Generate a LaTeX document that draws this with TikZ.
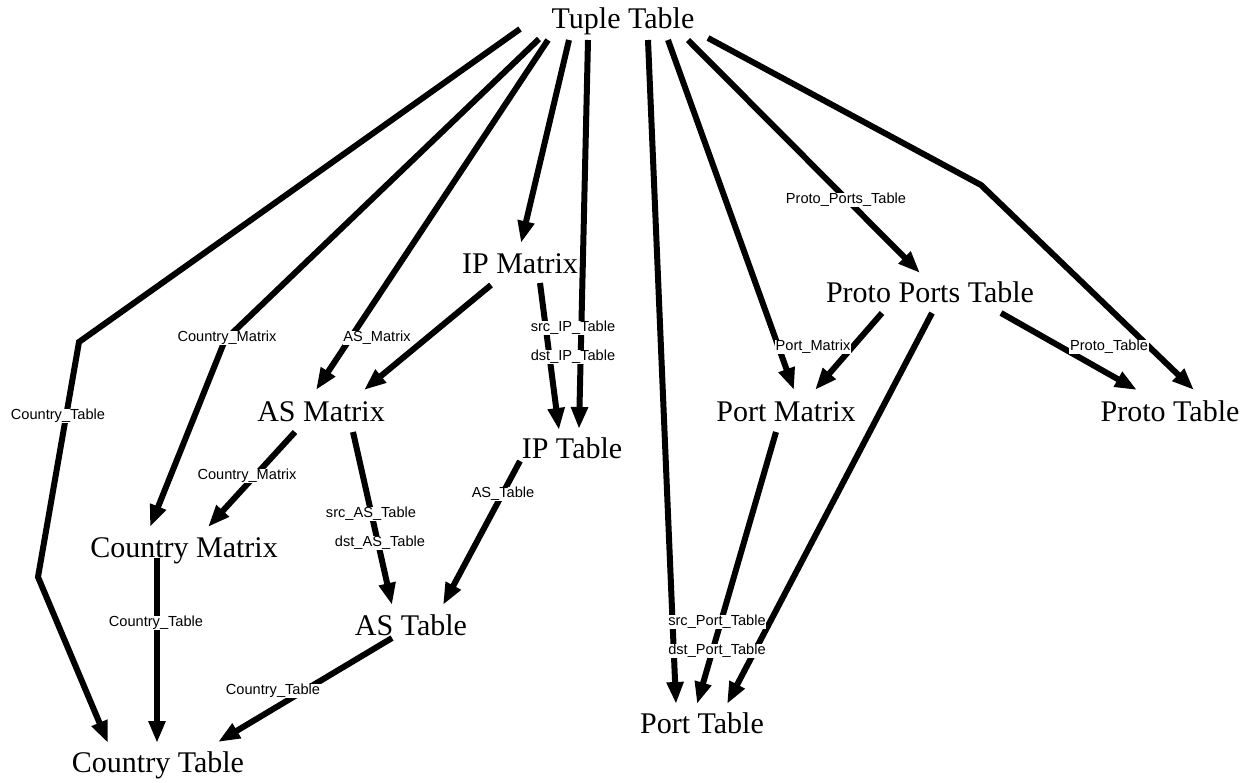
\documentclass[tikz,border=0pt]{standalone}
\usepackage{fontspec}
\setmainfont{Liberation Serif}
\newfontfamily\lsans{Liberation Sans}
\usetikzlibrary{arrows.meta}
\begin{document}
\begin{tikzpicture}[x=1pt,y=-1pt,
  tbl/.style={inner sep=0pt, anchor=base, font=\fontsize{30}{36}\selectfont},
  edge/.style={line width=6pt, -{Triangle[length=22pt,width=16pt]}},
  lbl/.style={fill=white, inner sep=0.6pt, font=\lsans\fontsize{14.6}{17}\selectfont}]
\useasboundingbox (0,0) rectangle (1255,782);
% nodes
\node[tbl] (tuple)  at (623,28)  {Tuple Table};
\node[tbl] (ipm)    at (520,273) {IP Matrix};
\node[tbl] (ppt)    at (930,302) {Proto Ports Table};
\node[tbl] (asm)    at (321,421) {AS Matrix};
\node[tbl] (portm)  at (786,421) {Port Matrix};
\node[tbl] (protot) at (1170,421) {Proto Table};
\node[tbl] (ipt)    at (572,458) {IP Table};
\node[tbl] (cm)     at (184,557) {Country Matrix};
\node[tbl] (ast)    at (411,635) {AS Table};
\node[tbl] (portt)  at (702,733) {Port Table};
\node[tbl] (ct)     at (158,772) {Country Table};
% edges
\draw[edge] ([shift={(-103,1)}]tuple.base) -- (79,342) -- (38,577) -- ([shift={(-50,-29)}]ct.base);
\draw[edge] ([shift={(-84,11)}]tuple.base) -- (225,340) -- ([shift={(-34,-30)}]cm.base);
\draw[edge] ([shift={(-75,12)}]tuple.base) -- ([shift={(-5,-31)}]asm.base);
\draw[edge] ([shift={(-54,12)}]tuple.base) -- ([shift={(1,-30)}]ipm.base);
\draw[edge] ([shift={(-35,12)}]tuple.base) -- ([shift={(7,-29)}]ipt.base);
\draw[edge] ([shift={(25,12)}]tuple.base) -- ([shift={(-26,-29)}]portt.base);
\draw[edge] ([shift={(45,12)}]tuple.base) -- ([shift={(8,-31)}]portm.base);
\draw[edge] ([shift={(65,12)}]tuple.base) -- ([shift={(-10,-29)}]ppt.base);
\draw[edge] ([shift={(85,10)}]tuple.base) -- (981,185) -- ([shift={(24,-31)}]protot.base);
\draw[edge] ([shift={(-29,12)}]ipm.base) -- ([shift={(43,-31)}]asm.base);
\draw[edge] ([shift={(20,10)}]ipm.base) -- ([shift={(-13,-28)}]ipt.base);
\draw[edge] ([shift={(-26,11)}]asm.base) -- ([shift={(24,-30)}]cm.base);
\draw[edge] ([shift={(32,11)}]asm.base) -- ([shift={(-19,-30)}]ast.base);
\draw[edge] ([shift={(-52,3)}]ipt.base) -- ([shift={(32,-30)}]ast.base);
\draw[edge] ([shift={(-27,1)}]cm.base) -- ([shift={(-1,-29)}]ct.base);
\draw[edge] ([shift={(-19,3)}]ast.base) -- ([shift={(60,-30)}]ct.base);
\draw[edge] ([shift={(-48,11)}]ppt.base) -- ([shift={(29,-31)}]portm.base);
\draw[edge] ([shift={(2,11)}]ppt.base) -- ([shift={(25,-29)}]portt.base);
\draw[edge] ([shift={(71,11)}]ppt.base) -- ([shift={(-33,-31)}]protot.base);
\draw[edge] ([shift={(-10,11)}]portm.base) -- ([shift={(-5,-29)}]portt.base);
% edge labels
\node[lbl] (l1)  at (58,416)   {Country\_Table};
\node[lbl] (l2)  at (227,338)  {Country\_Matrix};
\node[lbl] (l3)  at (377,338)  {AS\_Matrix};
\node[lbl] (l4)  at (573,328)  {src\_IP\_Table};
\node[lbl] (l5)  at (573,357)  {dst\_IP\_Table};
\node[lbl] (l6)  at (247,476)  {Country\_Matrix};
\node[lbl] (l7)  at (371,514)  {src\_AS\_Table};
\node[lbl] (l8)  at (380,543)  {dst\_AS\_Table};
\node[lbl] (l9)  at (503,494)  {AS\_Table};
\node[lbl] (l10) at (156,623)  {Country\_Table};
\node[lbl] (l11) at (273,691)  {Country\_Table};
\node[lbl] (l12) at (846,200)  {Proto\_Ports\_Table};
\node[lbl] (l13) at (813,347)  {Port\_Matrix};
\node[lbl] (l14) at (1109,347) {Proto\_Table};
\node[lbl] (l15) at (717,622)  {src\_Port\_Table};
\node[lbl] (l16) at (717,651)  {dst\_Port\_Table};
\end{tikzpicture}
\end{document}
